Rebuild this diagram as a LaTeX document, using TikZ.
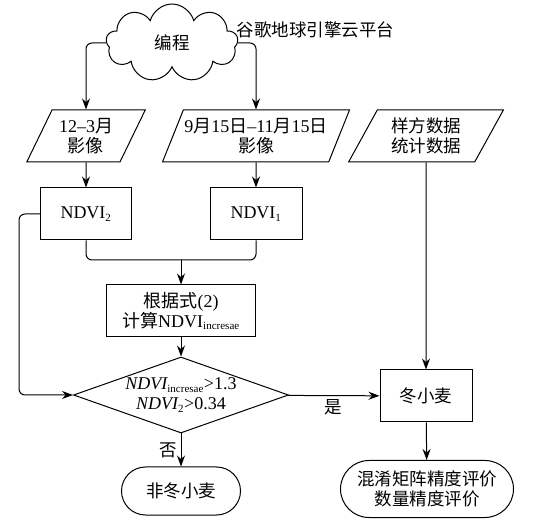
\documentclass[tikz,border=0pt]{standalone}
\usepackage{fontspec}
\setmainfont{Liberation Serif}
\newfontfamily\cjk{Noto Sans CJK SC}
\usetikzlibrary{shapes.geometric,shapes.symbols,shapes.misc,arrows.meta}
\newcommand\subtxt[1]{\textsubscript{\fontsize{11}{12}\selectfont #1}}
\tikzset{
    every node/.style = {font=\fontsize{18}{20}\selectfont, align=center},
    zh/.style = {font=\fontsize{17.5}{20}\selectfont\cjk},
    flowline/.style = {draw, line width=1pt, rounded corners=6pt},
    flowarrow/.style = {flowline, -{Stealth[length=11pt,width=8pt]}},
    databox/.style = {draw, line width=1pt, trapezium, trapezium left angle=61,
        trapezium right angle=119, trapezium stretches=true, minimum height=52pt, inner sep=1pt},
    procbox/.style = {draw, line width=1pt, rectangle, minimum height=52pt},
    endbox/.style = {draw, line width=1pt, rounded rectangle, inner sep=1pt}
}

\begin{document}
\begin{tikzpicture}[x=1pt, y=-1pt]
    \useasboundingbox (0,0) rectangle (536,529);

    \node[draw, line width=1pt, cloud, cloud puffs=9, aspect=1.8, minimum width=132pt,
        minimum height=78pt, inner sep=0pt, zh] (cloud) at (172,43) {编程};
    \node[anchor=west, zh] (gee) at (233,30) {谷歌地球引擎云平台};

    \node[databox, minimum width=119pt] (img1) at (86,136) {12–3{\cjk 月}\\{\cjk 影像}};
    \node[databox, minimum width=180pt] (img2) at (256,136)
        {9{\cjk 月}15{\cjk 日}–11{\cjk 月}15{\cjk 日}\\{\cjk 影像}};
    \node[databox, minimum width=155pt, zh] (samp) at (426,136) {样方数据\\统计数据};

    \node[procbox, minimum width=91pt] (ndvi2) at (86,214) {NDVI\subtxt{2}};
    \node[procbox, minimum width=92pt] (ndvi1) at (256,214) {NDVI\subtxt{1}};
    \coordinate (merge) at (181,260);

    \node[procbox, minimum width=149pt] (calc) at (181,311)
        {{\cjk 根据式}(2)\\{\cjk 计算}NDVI\subtxt{incresae}};

    \node[draw, line width=1pt, diamond, aspect=2.83, minimum width=215pt,
        minimum height=76pt, inner sep=-4pt] (cond) at (181,395)
        {{\itshape NDVI}\subtxt{incresae}>1.3\\{\itshape NDVI}\subtxt{2}>0.34};

    \node[procbox, minimum width=92pt, zh] (wheat) at (426,396) {冬小麦};
    \node[endbox, minimum width=121pt, minimum height=48pt, zh] (other) at (181,491) {非冬小麦};
    \node[endbox, minimum width=175pt, minimum height=57pt, zh] (eval) at (427,489)
        {混淆矩阵精度评价\\数量精度评价};

    \draw[flowarrow] (cloud.west) -| (img1.north);
    \draw[flowarrow] (cloud.east) -| (img2.north);
    \draw[flowarrow] (img1) -- (ndvi2);
    \draw[flowarrow] (img2) -- (ndvi1);
    \draw[flowline] (ndvi2.south) |- (merge);
    \draw[flowline] (ndvi1.south) |- (merge);
    \draw[flowarrow] (merge) -- (calc);
    \draw[flowarrow] (calc) -- (cond);
    \draw[flowarrow] (ndvi2.west) -- ++(-21,0) |- (cond.west);
    \draw[flowarrow] (cond) -- node[below, zh] {是} (wheat);
    \draw[flowarrow] (samp) -- (wheat);
    \draw[flowarrow] (cond) -- node[left, zh] {否} (other);
    \draw[flowarrow] (wheat) -- (eval);

\end{tikzpicture}
\end{document}
